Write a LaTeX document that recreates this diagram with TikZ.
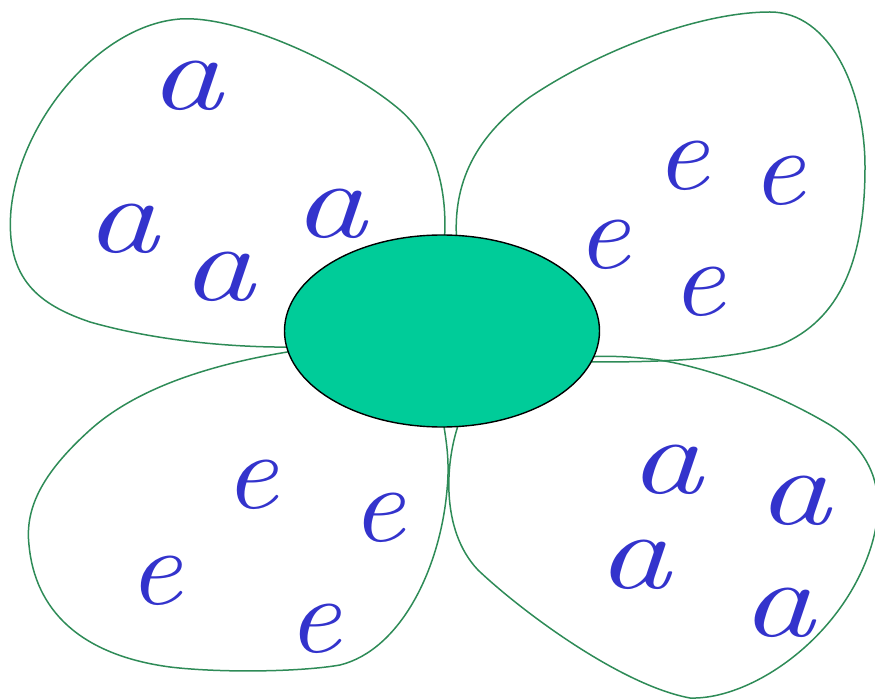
\documentclass[tikz,border=0pt]{standalone}
\usepackage{tikz}
\usetikzlibrary{shapes.geometric}

\definecolor{petalgreen}{RGB}{46,139,87}
\definecolor{heartgreen}{RGB}{0,204,153}
\definecolor{letterblue}{RGB}{51,51,204}

\newcommand{\leta}{\scalebox{1.35}[1]{a}}
\newcommand{\lete}{\scalebox{1.1}[1]{e}}

\begin{document}
\begin{tikzpicture}[x=1pt,y=-1pt,
  petal/.style={draw=petalgreen,line width=1.5pt},
  heart/.style={ellipse,draw=black,line width=1.4pt,fill=heartgreen,minimum width=315pt,minimum height=192pt,inner sep=0pt},
  letter/.style={text=letterblue,inner sep=0pt,font=\fontsize{110}{110}\selectfont\itshape}]
  \useasboundingbox (0,0) rectangle (875,700);
  % petals
  \draw[petal] (444,245) .. controls (448,200) and (440,145) .. (400,110)
    .. controls (350,67) and (240,15) .. (180,19)
    .. controls (100,25) and (20,120) .. (11,210)
    .. controls (5,280) and (40,305) .. (90,322)
    .. controls (160,342) and (240,348) .. (300,347) -- cycle;
  \draw[petal] (457,245) .. controls (452,190) and (470,140) .. (530,97)
    .. controls (600,50) and (700,12) .. (770,12)
    .. controls (830,12) and (865,90) .. (865,167)
    .. controls (865,260) and (840,320) .. (780,345)
    .. controls (720,362) and (640,362) .. (585,362) -- cycle;
  \draw[petal] (300,350) .. controls (220,362) and (140,385) .. (90,430)
    .. controls (40,475) and (25,510) .. (29,545)
    .. controls (35,610) and (80,655) .. (170,667)
    .. controls (220,673) and (300,672) .. (340,665)
    .. controls (400,650) and (440,570) .. (447,490)
    .. controls (450,460) and (446,440) .. (443,420) -- cycle;
  \draw[petal] (460,420) .. controls (445,460) and (440,530) .. (478,570)
    .. controls (520,610) and (620,685) .. (690,698)
    .. controls (750,700) and (840,640) .. (870,550)
    .. controls (890,490) and (870,450) .. (830,425)
    .. controls (780,395) and (700,362) .. (640,358)
    .. controls (620,356) and (600,356) .. (585,357) -- cycle;
  % centre
  \node[heart] (core) at (442,331) {};
  % letters
  \node[letter] (a1) at (186,86) {\leta};
  \node[letter] (a2) at (122,229) {\leta};
  \node[letter] (a3) at (218,277) {\leta};
  \node[letter] (a4) at (330,214) {\leta};
  \node[letter] (e1) at (682,166) {\lete};
  \node[letter] (e2) at (778,181) {\lete};
  \node[letter] (e3) at (603,245) {\lete};
  \node[letter] (e4) at (698,292) {\lete};
  \node[letter] (e5) at (251,485) {\lete};
  \node[letter] (e6) at (378,518) {\lete};
  \node[letter] (e7) at (155,581) {\lete};
  \node[letter] (e8) at (314,629) {\lete};
  \node[letter] (a5) at (666,470) {\leta};
  \node[letter] (a6) at (794,501) {\leta};
  \node[letter] (a7) at (634,565) {\leta};
  \node[letter] (a8) at (778,613) {\leta};
\end{tikzpicture}
\end{document}
